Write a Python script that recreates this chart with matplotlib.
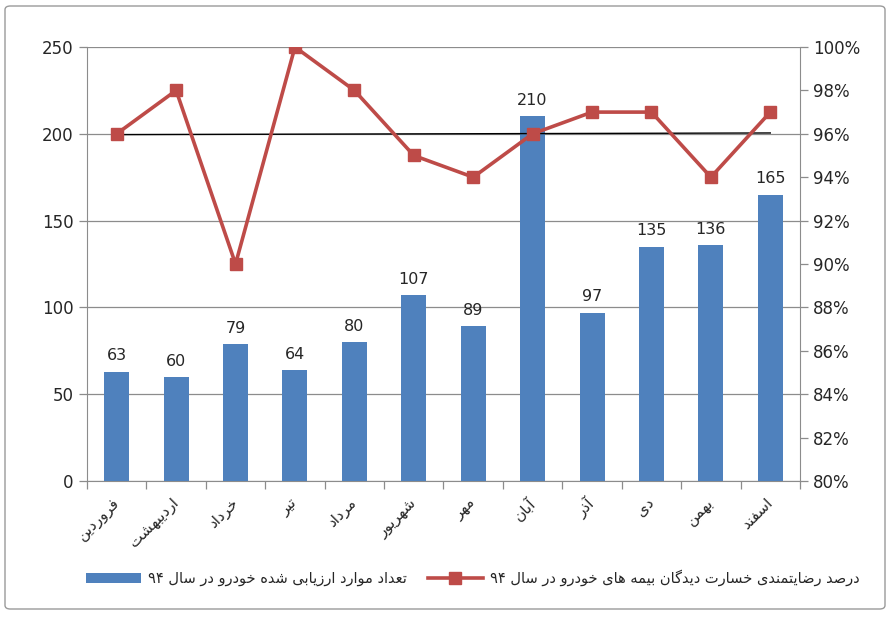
import numpy as np
import matplotlib
matplotlib.use("Agg")
import matplotlib.pyplot as plt
from matplotlib.patches import FancyBboxPatch, Patch
from matplotlib.lines import Line2D
from matplotlib.ticker import FuncFormatter, MultipleLocator

# ---------------- data ----------------
months = ["فروردین", "اردیبهشت", "خرداد", "تیر", "مرداد", "شهریور",
          "مهر", "آبان", "آذر", "دی", "بهمن", "اسفند"]
counts = [63, 60, 79, 64, 80, 107, 89, 210, 97, 135, 136, 165]
satisfaction = [96, 98, 90, 100, 98, 95, 94, 96, 97, 97, 94, 97]
legend_bar = "تعداد موارد ارزیابی شده خودرو در سال ۹۴"
legend_line = "درصد رضایتمندی خسارت دیدگان بیمه های خودرو در سال ۹۴"

# ---------------- minimal Persian shaping ----------------
FORMS = {  # isolated, final, initial, medial
    "ا": ("\uFE8D", "\uFE8E", None, None),
    "آ": ("\uFE81", "\uFE82", None, None),
    "ب": ("\uFE8F", "\uFE90", "\uFE91", "\uFE92"),
    "ت": ("\uFE95", "\uFE96", "\uFE97", "\uFE98"),
    "خ": ("\uFEA5", "\uFEA6", "\uFEA7", "\uFEA8"),
    "د": ("\uFEA9", "\uFEAA", None, None),
    "ذ": ("\uFEAB", "\uFEAC", None, None),
    "ر": ("\uFEAD", "\uFEAE", None, None),
    "ز": ("\uFEAF", "\uFEB0", None, None),
    "س": ("\uFEB1", "\uFEB2", "\uFEB3", "\uFEB4"),
    "ش": ("\uFEB5", "\uFEB6", "\uFEB7", "\uFEB8"),
    "ص": ("\uFEB9", "\uFEBA", "\uFEBB", "\uFEBC"),
    "ض": ("\uFEBD", "\uFEBE", "\uFEBF", "\uFEC0"),
    "ع": ("\uFEC9", "\uFECA", "\uFECB", "\uFECC"),
    "ف": ("\uFED1", "\uFED2", "\uFED3", "\uFED4"),
    "ل": ("\uFEDD", "\uFEDE", "\uFEDF", "\uFEE0"),
    "م": ("\uFEE1", "\uFEE2", "\uFEE3", "\uFEE4"),
    "ن": ("\uFEE5", "\uFEE6", "\uFEE7", "\uFEE8"),
    "ه": ("\uFEE9", "\uFEEA", "\uFEEB", "\uFEEC"),
    "و": ("\uFEED", "\uFEEE", None, None),
    "ی": ("\uFBFC", "\uFBFD", "\uFBFE", "\uFBFF"),
    "گ": ("\uFB92", "\uFB93", "\uFB94", "\uFB95"),
}


def shape(text):
    out = []
    n = len(text)
    for i, c in enumerate(text):
        if c not in FORMS:
            out.append(c)
            continue
        iso, fin, ini, med = FORMS[c]
        prev = text[i - 1] if i > 0 else ""
        nxt = text[i + 1] if i < n - 1 else ""
        jp = prev in FORMS and FORMS[prev][2] is not None
        jn = ini is not None and nxt in FORMS
        if jp and jn:
            out.append(med)
        elif jp:
            out.append(fin)
        elif jn:
            out.append(ini)
        else:
            out.append(iso)
    vis = "".join(out)[::-1]
    # keep digit runs left-to-right
    res, run = [], []
    for ch in vis:
        if ch.isdigit():
            run.append(ch)
        else:
            if run:
                res.extend(run[::-1]); run = []
            res.append(ch)
    if run:
        res.extend(run[::-1])
    return "".join(res)


# ---------------- figure ----------------
plt.rcParams["font.family"] = ["DejaVu Sans"]
fig = plt.figure(figsize=(8.92, 6.17), dpi=100)
W, H = 892, 617
fig.patches.append(FancyBboxPatch((5 / W, 8 / H), 880 / W, 603 / H,
                                  boxstyle="round,pad=0,rounding_size=0.006",
                                  transform=fig.transFigure, fill=False,
                                  edgecolor="#9a9a9a", linewidth=1.0))

ax = fig.add_axes([87 / W, 1 - 481 / H, (800 - 87) / W, (481 - 47) / H])
ax2 = ax.twinx()

x = np.arange(len(months))
bar_color = "#4F81BD"
line_color = "#BE4B48"
grid_color = "#8c8c8c"
text_color = "#262626"

bars = ax.bar(x, counts, width=0.42, color=bar_color, zorder=3)
for xi, v in zip(x, counts):
    ax.annotate(str(v), (xi, v), xytext=(0, 6), textcoords="offset points",
                ha="center", va="bottom", fontsize=11.5, color=text_color, zorder=5)

ax.set_ylim(0, 250)
ax.set_xlim(-0.5, len(months) - 0.5)
ax.yaxis.set_major_locator(MultipleLocator(50))
ax.grid(axis="y", color=grid_color, linewidth=0.9, zorder=0)
ax.set_axisbelow(True)

ax2.plot(x, satisfaction, color=line_color, linewidth=2.6, marker="s",
         markersize=8.5, zorder=6)
coef = np.polyfit(x, satisfaction, 1)
ax2.plot(x, np.polyval(coef, x), color="black", linewidth=1.0, zorder=5)
ax2.set_ylim(80, 100)
ax2.yaxis.set_major_locator(MultipleLocator(2))
ax2.yaxis.set_major_formatter(FuncFormatter(lambda v, p: f"{v:.0f}%"))

for a in (ax, ax2):
    a.spines["top"].set_visible(False)
    a.spines["left"].set_color(grid_color)
    a.spines["right"].set_color(grid_color)
    a.spines["bottom"].set_color(grid_color)
    a.tick_params(colors=grid_color, labelcolor=text_color, labelsize=12,
                  length=6, width=0.9)
ax.spines["right"].set_visible(False)
ax2.spines["left"].set_visible(False)
ax2.spines["bottom"].set_visible(False)

ax.set_xticks(x)
ax.set_xticklabels([shape(m) for m in months], rotation=45, ha="right",
                   va="center", rotation_mode="anchor", fontsize=11)
ax.tick_params(axis="x", length=0, pad=14)
ax.set_xticks(np.arange(-0.5, len(months), 1.0), minor=True)
ax.tick_params(axis="x", which="minor", length=6, color=grid_color, width=0.9)
ax.zorder = 1
ax2.zorder = 2

handles = [Patch(facecolor=bar_color, edgecolor="none"),
           Line2D([0], [0], color=line_color, linewidth=2.6, marker="s",
                  markersize=8.5)]
fig.legend(handles, [shape(legend_bar), shape(legend_line)], ncol=2,
           loc="center", bbox_to_anchor=(0.53, 1 - 578 / H), frameon=False,
           fontsize=10.5, handlelength=3.8, handleheight=0.7, columnspacing=1.4,
           handletextpad=0.5, labelcolor=text_color)

fig.savefig("out.png", dpi=100)
